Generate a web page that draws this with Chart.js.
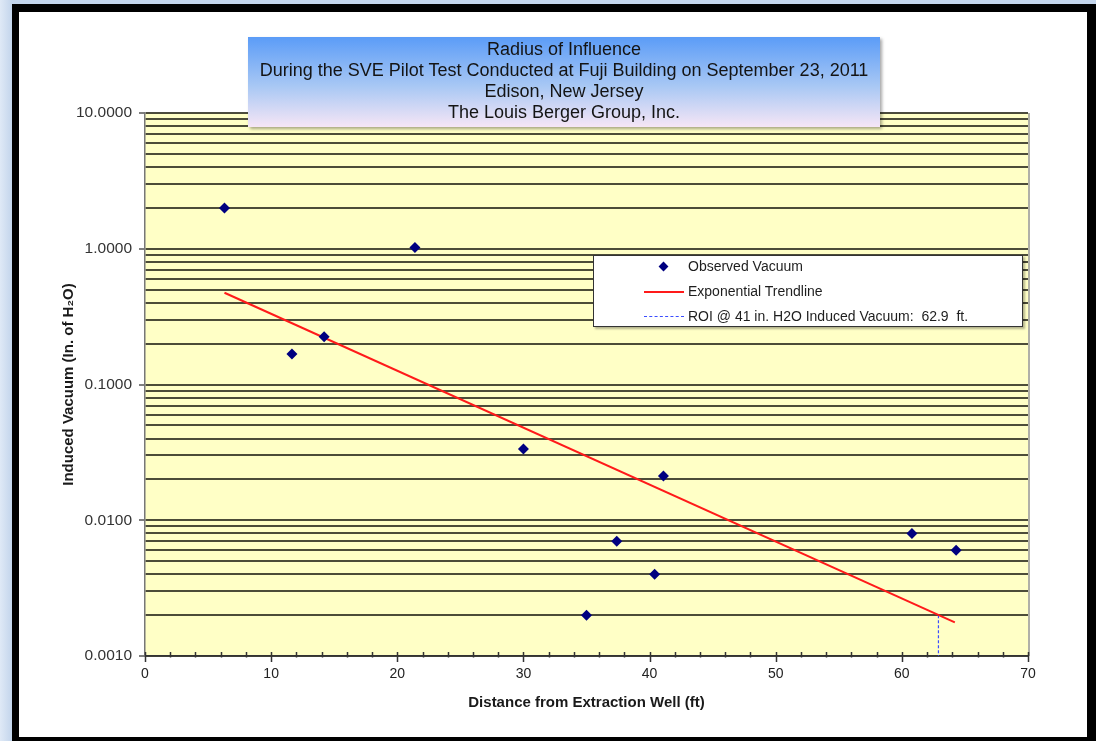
<!DOCTYPE html>
<html>
<head>
<meta charset="utf-8">
<script src="https://cdn.jsdelivr.net/npm/chart.js@4.4.1/dist/chart.umd.min.js"></script>
<style>
  html, body { margin:0; padding:0; }
  body { width:1096px; height:741px; position:relative; overflow:hidden;
         background: linear-gradient(to right, #dfe9f6 0px, #c3d5ec 12px, #c3d5ec 100%);
         font-family: 'Liberation Sans', Arial, sans-serif; }
  #black { position:absolute; left:12px; top:4px; width:1084px; height:737px; background:#000; }
  #white { position:absolute; left:19px; top:12px; width:1068px; height:725px; background:#fff; }
  #c { position:absolute; left:0; top:0; }
  #title { position:absolute; left:248px; top:37px; width:632px; height:90px;
           background: linear-gradient(to bottom, #5b9cf7 0%, #a9c8f4 55%, #f6e6f6 100%);
           box-shadow: 2px 2px 3px rgba(0,0,0,0.35);
           text-align:center; color:#141414; font-size:18px; line-height:21px;
           padding-top:2px; box-sizing:border-box; white-space:nowrap; }
  #legend { position:absolute; left:593px; top:255px; width:430px; height:72px;
            background:#fff; border:1px solid #333; box-sizing:border-box;
            box-shadow: 2px 2px 2px rgba(0,0,0,0.3); font-size:14px; color:#1e1e1e; }
  .row { position:absolute; left:0; height:20px; width:100%; }
  .txt { position:absolute; left:94px; top:1px; white-space:pre; }
  .dia { position:absolute; left:66px; top:6px; width:7px; height:7px; background:#000080; transform:rotate(45deg); }
  .red { position:absolute; left:50px; top:9px; width:40px; height:2px; background:#ff1a1a; }
  .blue { position:absolute; left:50px; top:9px; width:40px; height:0; border-top:1.5px dashed #3a4cff; }
</style>
</head>
<body>
<div id="black"></div>
<div id="white"></div>
<canvas id="c" width="1096" height="741"></canvas>
<div id="title">Radius of Influence<br>During the SVE Pilot Test Conducted at Fuji Building on September 23, 2011<br>Edison, New Jersey<br>The Louis Berger Group, Inc.</div>
<div id="legend">
  <div class="row" style="top:1px"><div class="dia"></div><div class="txt">Observed Vacuum</div></div>
  <div class="row" style="top:26px"><div class="red"></div><div class="txt">Exponential Trendline</div></div>
  <div class="row" style="top:51px"><div class="blue"></div><div class="txt">ROI @ 41 in. H2O Induced Vacuum:  62.9  ft.</div></div>
</div>
<script>
// ---- data ----
const obsX = [6.3, 11.65, 14.2, 21.4, 30.0, 35.0, 37.4, 40.4, 41.1, 60.8, 64.3];
const obsY = [2.0, 0.168, 0.225, 1.02, 0.0335, 0.0020, 0.0070, 0.0040, 0.0212, 0.0080, 0.0060];
const trendX = [6.3, 64.2];
const trendY = [0.474, 0.00177];
const roiX = [62.9, 62.9];
const roiY = [0.0020, 0.0010];
const yDecades = [0.001, 0.01, 0.1, 1];
const yMultipliers = [1, 2, 3, 4, 5, 6, 7, 8, 9];
const yTop = 10;
const xMin = 0, xMax = 70, xStep = 2, xLabelEvery = 10;

const yTicks = [];
yDecades.forEach(d => yMultipliers.forEach(m => yTicks.push(+(d * m).toPrecision(3))));
yTicks.push(yTop);
const isDecade = v => Math.abs(Math.log10(v) - Math.round(Math.log10(v))) < 1e-9;

const toPts = (xs, ys) => xs.map((x, i) => ({x: x, y: ys[i]}));
const FONT = "'Liberation Sans', Arial, sans-serif";

const plotBg = {
  id: 'plotBg',
  beforeDraw(chart) {
    const {ctx, chartArea: a} = chart;
    ctx.save();
    ctx.fillStyle = '#ffffc6';
    ctx.fillRect(a.left, a.top, a.right - a.left, a.bottom - a.top);
    ctx.restore();
  },
  afterDraw(chart) {
    const {ctx, chartArea: a} = chart;
    const xs = chart.scales.x;
    ctx.save();
    ctx.strokeStyle = '#b0b0a8';
    ctx.lineWidth = 2;
    ctx.beginPath(); ctx.moveTo(a.right + 1, a.top); ctx.lineTo(a.right + 1, a.bottom); ctx.stroke();
    ctx.strokeStyle = '#333';
    ctx.lineWidth = 1.5;
    xs.ticks.forEach(t => {
      const px = Math.round(xs.getPixelForValue(t.value)) + 0.5;
      const major = t.value % xLabelEvery === 0;
      ctx.beginPath();
      ctx.moveTo(px, a.bottom - 4);
      ctx.lineTo(px, a.bottom + (major ? 6 : 1.5));
      ctx.stroke();
    });
    ctx.restore();
  }
};

new Chart(document.getElementById('c'), {
  type: 'scatter',
  data: {
    datasets: [
      { label: 'Observed Vacuum', data: toPts(obsX, obsY), pointStyle: 'rectRot', pointRadius: 5.5,
        backgroundColor: '#000080', borderColor: '#000080', borderWidth: 0, order: 1 },
      { label: 'Exponential Trendline', data: toPts(trendX, trendY), showLine: true, pointRadius: 0,
        borderColor: '#ff1a1a', borderWidth: 2, order: 2 },
      { label: 'ROI', data: toPts(roiX, roiY), showLine: true, pointRadius: 0,
        borderColor: '#3a4cff', borderWidth: 1.2, borderDash: [3, 2], order: 3 }
    ]
  },
  options: {
    responsive: false, animation: false, devicePixelRatio: 1,
    layout: { padding: { left: 20, top: 113, right: 68, bottom: 20 } },
    plugins: { legend: { display: false }, tooltip: { enabled: false } },
    scales: {
      x: {
        type: 'linear', min: xMin, max: xMax,
        afterFit(s) { s.height = 65; },
        ticks: { stepSize: xStep, autoSkip: false, maxRotation: 0, padding: 10,
                 color: '#222', font: { family: FONT, size: 14 },
                 callback: v => (v % xLabelEvery === 0 ? String(v) : '') },
        grid: { display: true, drawOnChartArea: false, drawTicks: false },
        border: { display: true, color: '#333', width: 1.5 },
        title: { display: true, text: 'Distance from Extraction Well (ft)', color: '#1a1a1a',
                 font: { family: FONT, size: 15, weight: 'bold' }, padding: { top: 0, bottom: 9 } }
      },
      y: {
        type: 'logarithmic', min: 0.001, max: yTop,
        afterFit(s) { s.width = 125; },
        afterBuildTicks(s) { s.ticks = yTicks.map(v => ({ value: v, major: isDecade(v) })); },
        ticks: { autoSkip: false, padding: 7, color: '#333', font: { family: FONT, size: 15.5 },
                 callback: v => (isDecade(v) ? Number(v).toFixed(4) : '') },
        grid: { color: 'rgba(45,45,30,0.85)', lineWidth: 2, tickLength: 6,
                tickColor: c => (c.tick && isDecade(c.tick.value) ? '#555' : 'rgba(0,0,0,0)'),
                tickWidth: 1.5 },
        border: { display: true, color: '#777', width: 1.5 },
        title: { display: true, text: 'Induced Vacuum (In. of H\u2082O)', color: '#1a1a1a',
                 font: { family: FONT, size: 15, weight: 'bold' }, padding: { top: 40, bottom: 0 } }
      }
    }
  },
  plugins: [plotBg]
});
</script>
</body>
</html>
